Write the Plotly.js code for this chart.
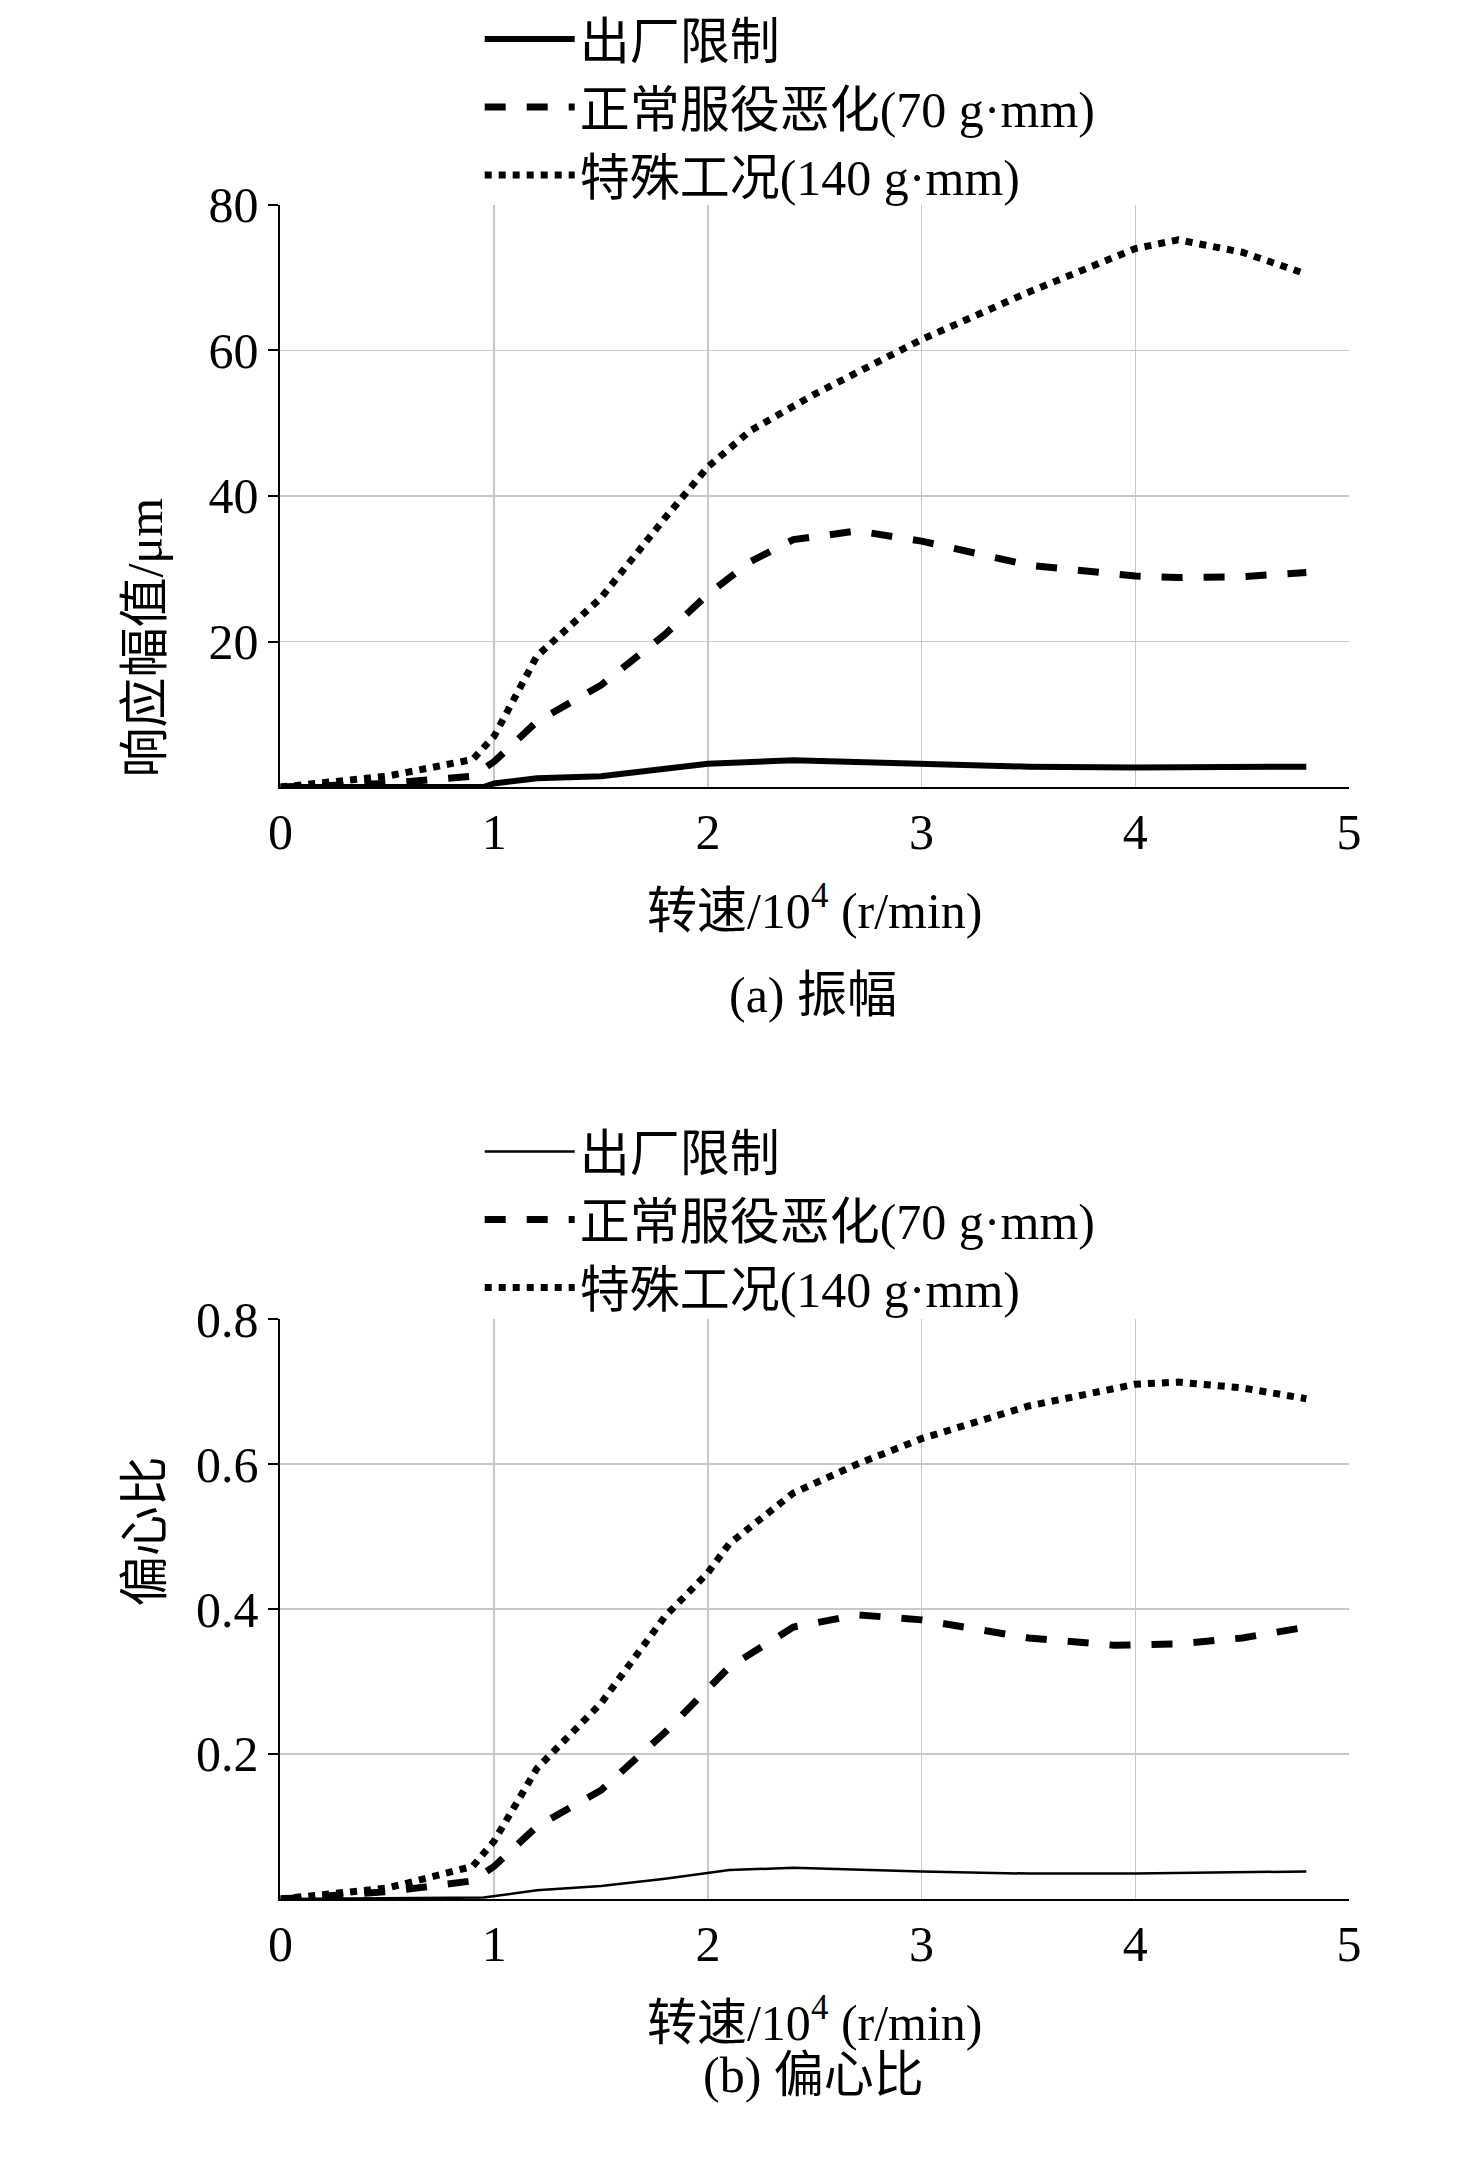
<!DOCTYPE html>
<html>
<head>
<meta charset="utf-8">
<script src="https://cdn.plot.ly/plotly-3.0.1.min.js"></script>
<style>body{margin:0;background:#fff}</style>
</head>
<body>
<div id="graph" style="width:1476px;height:2173px"></div>
<script>
// amplitude (um)
const ampSolidX = [0, 0.5, 0.95, 1.0, 1.2, 1.5, 1.8, 2.0, 2.4, 3.0, 3.5, 4.0, 4.8];
const ampSolidY = [0, 0, 0, 0.5, 1.2, 1.5, 2.5, 3.2, 3.7, 3.2, 2.8, 2.7, 2.8];
const ampDashX = [0, 0.5, 0.9, 1.0, 1.2, 1.5, 1.8, 2.0, 2.2, 2.4, 2.7, 3.0, 3.5, 4.0, 4.2, 4.5, 4.8];
const ampDashY = [0, 0.5, 1.5, 3.5, 9, 14, 21, 26.5, 31, 34, 35.2, 33.8, 30.5, 29, 28.8, 28.9, 29.5];
const ampDotX = [0, 0.5, 0.9, 1.0, 1.2, 1.5, 1.8, 2.0, 2.2, 2.5, 3.0, 3.5, 4.0, 4.2, 4.5, 4.8];
const ampDotY = [0, 1.5, 3.8, 7, 18, 26, 37, 44, 49, 54, 61.5, 68, 74, 75.2, 73.5, 70.5];

// eccentricity ratio
const eccSolidX = [0, 0.95, 1.2, 1.5, 1.8, 2.1, 2.4, 3.0, 3.5, 4.0, 4.8];
const eccSolidY = [0, 0.002, 0.012, 0.018, 0.028, 0.04, 0.043, 0.038, 0.035, 0.035, 0.038];
const eccDashX = [0, 0.5, 0.9, 1.0, 1.2, 1.5, 1.8, 2.0, 2.1, 2.4, 2.7, 3.0, 3.5, 3.9, 4.2, 4.5, 4.8];
const eccDashY = [0, 0.01, 0.025, 0.045, 0.1, 0.15, 0.23, 0.29, 0.32, 0.375, 0.392, 0.385, 0.36, 0.35, 0.352, 0.36, 0.375];
const eccDotX = [0, 0.5, 0.9, 1.0, 1.2, 1.5, 1.8, 2.0, 2.1, 2.4, 2.7, 3.0, 3.5, 4.0, 4.2, 4.5, 4.8];
const eccDotY = [0, 0.015, 0.045, 0.08, 0.18, 0.27, 0.39, 0.45, 0.49, 0.56, 0.6, 0.635, 0.68, 0.71, 0.713, 0.705, 0.69];

const names = ['出厂限制', '正常服役恶化(70 g·mm)', '特殊工况(140 g·mm)'];
const dashes = ['solid', 'dash', 'dot'];
const xTicks = [0, 1, 2, 3, 4, 5];

const FONT = 'Liberation Serif, Noto Sans CJK SC, serif';
const FS = 50;

function mk(x, y, i, axis, legend, width) {
  return {
    x, y, name: names[i], type: 'scatter', mode: 'lines',
    xaxis: axis[0], yaxis: axis[1], legend,
    line: { color: '#000', dash: dashes[i], width },
  };
}

const traces = [
  mk(ampSolidX, ampSolidY, 0, ['x', 'y'], 'legend', 6),
  mk(ampDashX, ampDashY, 1, ['x', 'y'], 'legend', 7),
  mk(ampDotX, ampDotY, 2, ['x', 'y'], 'legend', 7),
  mk(eccSolidX, eccSolidY, 0, ['x2', 'y2'], 'legend2', 2.5),
  mk(eccDashX, eccDashY, 1, ['x2', 'y2'], 'legend2', 7),
  mk(eccDotX, eccDotY, 2, ['x2', 'y2'], 'legend2', 7),
];

const xBase = {
  range: [0, 5], tickvals: xTicks, domain: [0.19, 0.914],
  showgrid: true, gridcolor: '#c8c8c8', gridwidth: 1.5,
  showline: true, linecolor: '#000', linewidth: 2, mirror: false,
  ticks: '', zeroline: false,
  tickfont: { size: FS, family: FONT },
  title: { text: '转速/10<sup>4</sup> (r/min)', font: { size: FS, family: FONT }, standoff: 34 },
};
const yBase = {
  showgrid: true, gridcolor: '#c8c8c8', gridwidth: 1.5,
  showline: true, linecolor: '#000', linewidth: 2,
  ticks: 'outside', ticklen: 10, tickcolor: '#000', tickwidth: 2, zeroline: false,
  tickfont: { size: FS, family: FONT },
};

const legendBase = {
  font: { size: FS, family: FONT }, itemwidth: 90, bgcolor: 'rgba(0,0,0,0)',
  xanchor: 'left', yanchor: 'top', tracegroupgap: 0, itemclick: false,
};

const layout = {
  width: 1476, height: 2173,
  margin: { l: 0, r: 0, t: 0, b: 0 },
  paper_bgcolor: '#fff', plot_bgcolor: '#fff',
  font: { family: FONT, color: '#000' },
  xaxis: Object.assign({}, xBase, { anchor: 'y' }),
  yaxis: Object.assign({}, yBase, { range: [0, 80], tickvals: [20, 40, 60, 80], domain: [0.6378, 0.9057], anchor: 'x' }),
  xaxis2: Object.assign({}, xBase, { anchor: 'y2' }),
  yaxis2: Object.assign({}, yBase, { range: [0, 0.8], tickvals: [0.2, 0.4, 0.6, 0.8], domain: [0.1261, 0.393], anchor: 'x2' }),
  legend: Object.assign({}, legendBase, { x: 0.325, y: 1.0 }),
  legend2: Object.assign({}, legendBase, { x: 0.325, y: 0.488 }),
  showlegend: true,
  annotations: [
    { text: '响应幅值/μm', x: 0.078, y: 0.772, xref: 'paper', yref: 'paper', textangle: -90, showarrow: false, font: { size: FS, family: FONT } },
    { text: '偏心比', x: 0.078, y: 0.26, xref: 'paper', yref: 'paper', textangle: -90, showarrow: false, font: { size: FS, family: FONT } },
    { text: '(a) 振幅', x: 0.551, y: 1 - 995 / 2173, xref: 'paper', yref: 'paper', showarrow: false, font: { size: FS, family: FONT } },
    { text: '(b) 偏心比', x: 0.551, y: 1 - 2105 / 2173, xref: 'paper', yref: 'paper', showarrow: false, font: { size: FS, family: FONT } },
  ],
};

Plotly.newPlot('graph', traces, layout, { displayModeBar: false, staticPlot: true });
</script>
</body>
</html>
